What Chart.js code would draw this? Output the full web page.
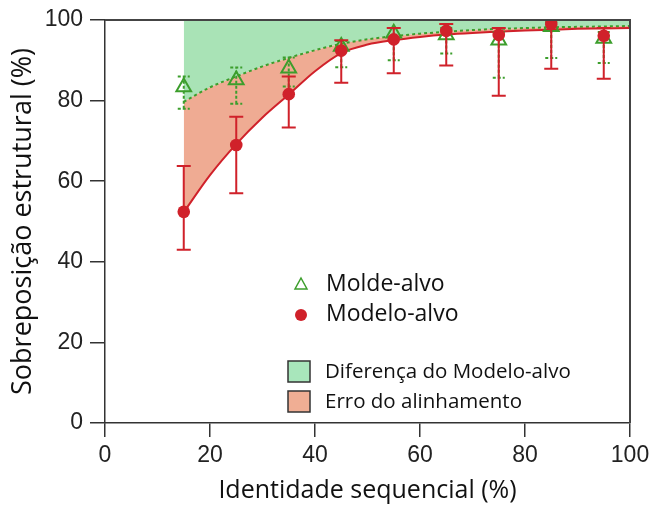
<!DOCTYPE html>
<html>
<head>
<meta charset="utf-8">
<script src="https://cdn.jsdelivr.net/npm/chart.js@4.4.1/dist/chart.umd.min.js"></script>
<style>
  html, body { margin: 0; padding: 0; background: #fff; }
  #chart { display: block; }
</style>
</head>
<body>
<canvas id="chart" width="650" height="505"></canvas>
<script>
// identity bins (%)
const identity = [15, 25, 35, 45, 55, 65, 75, 85, 95];

// Modelo-alvo (red circles) + error range
const modeloAlvo = [52.4, 69, 81.6, 92.4, 95.2, 97.3, 96.3, 99, 96.1];
const modeloLow = [43, 57, 73.3, 84.4, 86.8, 88.7, 81.2, 87.9, 85.4];
const modeloHigh = [63.8, 76, 86, 95, 98, 99, 98, 100, 98];

// Molde-alvo (green triangles) + error range
const moldeAlvo = [83.4, 85.1, 88, 93.4, 96.7, 96.3, 95, 98.3, 95.4];
const moldeLow = [78, 79.2, 83.5, 88.3, 90, 91.7, 85.7, 90.6, 89.3];
const moldeHigh = [86, 88.2, 90.7, 94.8, 98, 98, 97, 99.5, 97];

// fitted curves
const fitX = [15, 20, 25, 30, 35, 40, 45, 50, 55, 60, 65, 70, 75, 80, 85, 90, 95, 100];
const fitModelo = [52.3, 61.5, 69.2, 75.8, 81.5, 87.3, 91.8, 93.9, 95, 95.8, 96.4, 96.8, 97.1, 97.4, 97.6, 97.8, 97.9, 98];
const fitMolde = [79.7, 83.3, 86, 88.5, 90.6, 92.5, 94.1, 95.2, 96, 96.6, 97.1, 97.5, 97.8, 98, 98.2, 98.3, 98.4, 98.5];

const xTicks = [0, 20, 40, 60, 80, 100];
const yTicks = [0, 20, 40, 60, 80, 100];

const RED = '#d0212a';
const GREEN = '#3c9e2c';
const GREEN_FILL = '#a9e3b6';
const SALMON_FILL = '#efab93';
const AXIS = '#333';

const pts = (xs, ys) => xs.map((x, i) => ({ x: x, y: ys[i] }));

function drawBars(chart, lows, highs, color, dash, cap) {
  const ctx = chart.ctx;
  const xs = chart.scales.x, ys = chart.scales.y;
  const area = chart.chartArea;
  ctx.save();
  ctx.beginPath();
  ctx.rect(area.left, area.top - 1, area.right - area.left, area.bottom - area.top + 1);
  ctx.clip();
  ctx.strokeStyle = color;
  ctx.lineWidth = 2;
  ctx.setLineDash(dash);
  identity.forEach((v, i) => {
    const px = xs.getPixelForValue(v);
    const y1 = ys.getPixelForValue(lows[i]);
    const y2 = ys.getPixelForValue(highs[i]);
    ctx.beginPath();
    ctx.moveTo(px, y1); ctx.lineTo(px, y2);
    ctx.moveTo(px - cap, y1); ctx.lineTo(px + cap, y1);
    ctx.moveTo(px - cap, y2); ctx.lineTo(px + cap, y2);
    ctx.stroke();
  });
  ctx.restore();
}

const extras = {
  id: 'extras',
  beforeDatasetDraw(chart, args) {
    if (args.index === 1) drawBars(chart, moldeLow, moldeHigh, GREEN, [3, 2], 6);
    if (args.index === 0) drawBars(chart, modeloLow, modeloHigh, RED, [], 7);
  },
  afterDatasetsDraw(chart) {
    const { ctx, chartArea: a } = chart;
    ctx.save();
    // top + right frame
    ctx.strokeStyle = '#444';
    ctx.lineWidth = 2;
    ctx.beginPath();
    ctx.moveTo(a.left, a.top);
    ctx.lineTo(a.right, a.top);
    ctx.lineTo(a.right, a.bottom);
    ctx.stroke();

    // legend
    ctx.textBaseline = 'middle';
    ctx.strokeStyle = GREEN;
    ctx.lineWidth = 1.5;
    ctx.beginPath();
    ctx.moveTo(301, 278); ctx.lineTo(307, 289); ctx.lineTo(295, 289); ctx.closePath();
    ctx.stroke();
    ctx.fillStyle = RED;
    ctx.beginPath();
    ctx.arc(301, 315, 6, 0, Math.PI * 2);
    ctx.fill();

    ctx.fillStyle = '#111';
    ctx.font = '23px "Open Sans"';
    ctx.fillText('Molde-alvo', 326, 284);
    ctx.fillText('Modelo-alvo', 326, 314);

    ctx.lineWidth = 1.5;
    ctx.strokeStyle = '#333';
    ctx.fillStyle = '#a8e6bb';
    ctx.fillRect(288, 361, 22, 21);
    ctx.strokeRect(288, 361, 22, 21);
    ctx.fillStyle = '#f0ae94';
    ctx.fillRect(288, 391, 22, 21);
    ctx.strokeRect(288, 391, 22, 21);

    ctx.fillStyle = '#111';
    ctx.font = '20.5px "Open Sans"';
    ctx.fillText('Diferença do Modelo-alvo', 325, 372);
    ctx.fillText('Erro do alinhamento', 325, 402);
    ctx.restore();
  }
};

new Chart(document.getElementById('chart'), {
  type: 'scatter',
  data: {
    datasets: [
      {
        label: 'Modelo-alvo',
        data: pts(identity, modeloAlvo),
        pointStyle: 'circle',
        pointRadius: 6.3,
        backgroundColor: RED,
        borderColor: RED,
        borderWidth: 0,
        showLine: false
      },
      {
        label: 'Molde-alvo',
        data: pts(identity, moldeAlvo),
        pointStyle: 'triangle',
        pointRadius: 8.5,
        backgroundColor: 'rgba(0,0,0,0)',
        borderColor: GREEN,
        borderWidth: 2,
        showLine: false
      },
      {
        label: 'Erro do alinhamento',
        data: pts(fitX, fitModelo),
        showLine: true,
        pointRadius: 0,
        borderColor: RED,
        borderWidth: 2,
        cubicInterpolationMode: 'monotone',
        backgroundColor: SALMON_FILL,
        fill: 3
      },
      {
        label: 'Diferença do Modelo-alvo',
        data: pts(fitX, fitMolde),
        showLine: true,
        pointRadius: 0,
        borderColor: GREEN,
        borderWidth: 2,
        borderDash: [3, 3],
        cubicInterpolationMode: 'monotone',
        backgroundColor: GREEN_FILL,
        fill: 'end'
      }
    ]
  },
  options: {
    responsive: false,
    animation: false,
    devicePixelRatio: 1,
    layout: { padding: { top: 20, right: 20, left: 0, bottom: 0 } },
    plugins: {
      legend: { display: false },
      tooltip: { enabled: false },
      filler: { drawTime: 'beforeDatasetsDraw' }
    },
    scales: {
      x: {
        type: 'linear',
        min: 0, max: 100,
        afterFit: s => { s.height = 82; s.paddingLeft = 0; s.paddingRight = 0; },
        afterBuildTicks: s => { s.ticks = xTicks.map(v => ({ value: v })); },
        grid: { drawOnChartArea: false, tickLength: 14, color: AXIS, lineWidth: 1.5 },
        border: { color: AXIS, width: 1.5 },
        ticks: { color: '#222', padding: 5, font: { family: '"Liberation Sans", Arial', size: 23 } },
        title: {
          display: true,
          text: 'Identidade sequencial (%)',
          color: '#111',
          font: { family: '"Open Sans"', size: 25, lineHeight: 1 },
          padding: { top: 0, bottom: 1.5 }
        }
      },
      y: {
        type: 'linear',
        min: 0, max: 100,
        afterFit: s => { s.width = 105; s.paddingTop = 0; s.paddingBottom = 0; },
        afterBuildTicks: s => { s.ticks = yTicks.map(v => ({ value: v })); },
        grid: { drawOnChartArea: false, tickLength: 15, color: AXIS, lineWidth: 1.5 },
        border: { color: AXIS, width: 1.5 },
        ticks: { color: '#222', padding: 7, font: { family: '"Liberation Sans", Arial', size: 23 } },
        title: {
          display: true,
          text: 'Sobreposição estrutural (%)',
          color: '#111',
          font: { family: '"Open Sans"', size: 27, lineHeight: 1 },
          padding: { top: 9.5, bottom: 0 }
        }
      }
    }
  },
  plugins: [extras]
});
</script>
</body>
</html>
